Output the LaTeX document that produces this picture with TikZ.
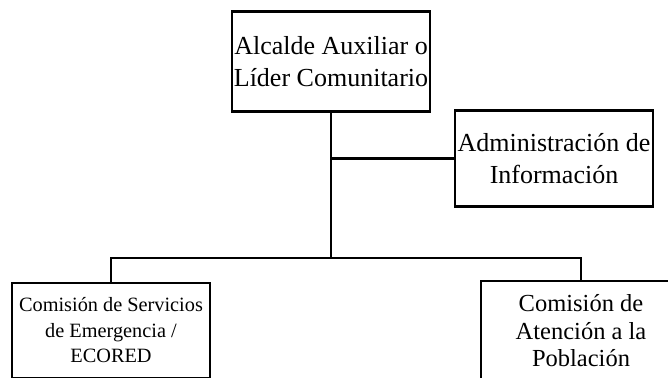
\documentclass[tikz,border=0pt]{standalone}
\usepackage{fontspec}
\setmainfont{Liberation Serif}
\begin{document}
\begin{tikzpicture}[x=1pt,y=-1pt,
  orgbox/.style={draw=black, line width=2.3pt, fill=white, inner sep=0pt, align=center, anchor=center},
  bigtext/.style={font=\fontsize{26}{31.5}\selectfont},
  link/.style={draw=black, line width=2.3pt}]
\clip (0,0) rectangle (668,377);
\fill[white] (0,0) rectangle (668,377);
% boxes
\node[orgbox, bigtext, minimum width=198pt, minimum height=100pt] (top) at (331,61.5)
  {Alcalde Auxiliar o\\Líder Comunitario};
\node[orgbox, bigtext, minimum width=198pt, minimum height=96pt] (admin) at (554,158.5)
  {Administración de\\Información};
\node[orgbox, font=\fontsize{20.3}{25.5}\selectfont, minimum width=198pt, minimum height=95pt] (left) at (111,330.5)
  {Comisión de Servicios\\de Emergencia /\\ECORED};
\node[orgbox, font=\fontsize{24.5}{27.5}\selectfont, minimum width=200pt, minimum height=100pt] (right) at (581,331)
  {Comisión de\\Atención a la\\Población};
% connectors
\coordinate (junction) at (331,258);
\draw[link] (top.south) -- (junction);
\draw[link] (admin.west) -- (admin.west -| top.south);
\draw[link] (left.north) |- (junction) -| (right.north);
\end{tikzpicture}
\end{document}
